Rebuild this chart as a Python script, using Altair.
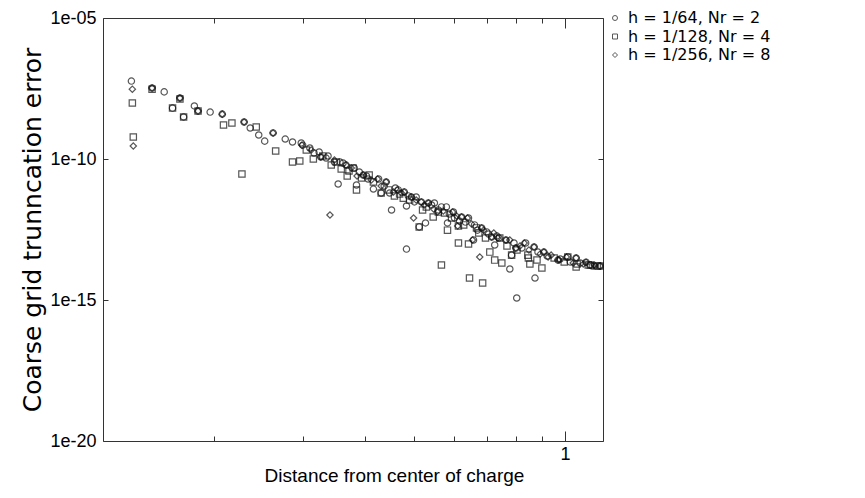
import altair as alt
import pandas as pd

series_names = ["h = 1/64, Nr = 2", "h = 1/128, Nr = 4", "h = 1/256, Nr = 8"]

# h = 1/64, Nr = 2  (circles)
x_64 = [0.1367, 0.1503, 0.1589, 0.1651, 0.1708, 0.1737, 0.1825, 0.1856, 0.1962, 0.2074,
        0.2293, 0.2358, 0.2452, 0.2520, 0.2619, 0.2769, 0.2863, 0.298, 0.300, 0.310,
        0.316, 0.326, 0.337, 0.347, 0.353, 0.356, 0.366, 0.380, 0.384, 0.396,
        0.405, 0.415, 0.425, 0.430, 0.440, 0.447, 0.451, 0.465, 0.478, 0.483,
        0.483, 0.494, 0.505, 0.512, 0.517, 0.527, 0.534, 0.549, 0.567, 0.580,
        0.583, 0.599, 0.602, 0.622, 0.642, 0.657, 0.660, 0.682, 0.698, 0.714,
        0.724, 0.738, 0.7624, 0.7824, 0.776, 0.7977, 0.801, 0.8345, 0.8674, 0.9074,
        0.871, 0.9678, 1.0125, 1.052, 1.101, 1.1225, 1.174,
        0.3235, 0.334, 0.361, 0.389, 0.402, 0.436, 0.459, 0.487, 0.501, 0.542,
        0.559, 0.588, 0.616, 0.633, 0.669, 0.704, 0.731, 0.791, 0.820, 0.883,
        0.921, 0.978, 1.024, 1.072, 1.133]
y_64 = [5.8e-8, 3.3e-8, 2.4e-8, 6.4e-9, 1.46e-8, 3.1e-9, 7.6e-9, 5.0e-9, 4.6e-9, 3.9e-9,
        2.05e-9, 1.26e-9, 7.1e-10, 4.3e-10, 8.4e-10, 5.1e-10, 4.0e-10, 3.7e-10, 3.1e-10, 2.45e-10,
        1.63e-10, 1.18e-10, 1.28e-10, 7.8e-11, 1.3e-11, 7.8e-11, 6.1e-11, 4.8e-11, 1.2e-11, 2.7e-11,
        1.95e-11, 8.6e-12, 1.95e-11, 6.2e-12, 1.53e-11, 6.2e-12, 1.55e-12, 8.0e-12, 6.8e-12, 2.15e-12,
        6.4e-14, 4.5e-12, 4.5e-12, 3.9e-13, 3.0e-12, 5.4e-13, 2.75e-12, 2.75e-12, 2.0e-12, 2.0e-12,
        5.4e-13, 1.32e-12, 8.1e-13, 8.8e-13, 8.1e-13, 1.34e-13, 4.6e-13, 3.6e-13, 2.6e-13, 1.71e-13,
        8.9e-14, 1.58e-13, 1.34e-13, 3.9e-14, 1.26e-14, 7.0e-14, 1.18e-15, 1.05e-13, 7.6e-14, 5.0e-14,
        6.0e-15, 2.6e-14, 3.35e-14, 3.1e-14, 2.2e-14, 1.74e-14, 1.61e-14,
        1.77e-10, 1.08e-10, 7.2e-11, 3.46e-11, 2.5e-11, 1.1e-11, 9.4e-12, 4.9e-12, 3.0e-12, 2.34e-12,
        1.55e-12, 1.12e-12, 6.3e-13, 5.8e-13, 3.0e-13, 2.19e-13, 1.86e-13, 1.05e-13, 7.0e-14, 5.0e-14,
        3.63e-14, 2.84e-14, 2.23e-14, 2.05e-14, 1.61e-14]

# h = 1/128, Nr = 4  (squares)
x_128 = [0.1373, 0.1379, 0.1503, 0.1651, 0.1708, 0.1737, 0.1856, 0.2086, 0.227, 0.2168,
         0.2424, 0.2650, 0.2863, 0.2960, 0.315, 0.350, 0.358, 0.368, 0.378, 0.384,
         0.407, 0.430, 0.457, 0.476, 0.512, 0.520, 0.546, 0.559, 0.567, 0.583,
         0.613, 0.613, 0.642, 0.645, 0.673, 0.685, 0.708, 0.724, 0.748, 0.7824,
         0.8508, 0.845, 0.899, 1.0125, 1.052, 1.1225, 1.174,
         0.305, 0.329, 0.342, 0.371, 0.393, 0.415, 0.445, 0.468, 0.490, 0.529,
         0.575, 0.594, 0.628, 0.666, 0.694, 0.741, 0.766, 0.802, 0.843, 0.879,
         0.951, 0.996, 1.057, 1.112, 1.159]
y_128 = [9.7e-9, 6.0e-10, 3.0e-8, 6.4e-9, 1.34e-8, 3.1e-9, 5.0e-9, 1.61e-9, 2.94e-11, 1.89e-9,
         1.36e-9, 1.92e-10, 7.8e-11, 8.5e-11, 1.0e-10, 7.8e-11, 4.4e-11, 2.5e-11, 4.8e-11, 8.0e-12,
         2.7e-11, 6.2e-12, 4.9e-12, 4.1e-12, 3.9e-13, 1.55e-12, 8.8e-13, 1.32e-12, 1.74e-14, 3.0e-13,
         1.05e-13, 4.2e-13, 9.7e-14, 6.0e-15, 2.4e-13, 4.0e-15, 5.0e-14, 2.6e-14, 2.05e-14, 3.9e-14,
         1.89e-14, 3.1e-14, 1.36e-14, 3.35e-14, 1.48e-14, 1.74e-14, 1.61e-14,
         2.08e-10, 1.28e-10, 6.1e-11, 3.75e-11, 2.12e-11, 1.53e-11, 8.0e-12, 5.7e-12, 3.5e-12, 2.0e-12,
         1.22e-12, 8.1e-13, 4.6e-13, 3.6e-13, 1.58e-13, 1.58e-13, 8.2e-14, 5.9e-14, 3.9e-14, 2.62e-14,
         3.08e-14, 2.23e-14, 1.89e-14, 1.74e-14, 1.61e-14]

# h = 1/256, Nr = 8  (diamonds)
x_256 = [0.1373, 0.1379, 0.1503, 0.1708, 0.1856, 0.2074, 0.2293, 0.2619, 0.299, 0.340,
         0.326, 0.366, 0.396, 0.423, 0.440, 0.463, 0.478, 0.494, 0.499, 0.517,
         0.534, 0.557, 0.597, 0.611, 0.622, 0.639, 0.654, 0.676, 0.682, 0.714,
         0.734, 0.7624, 0.7977, 0.8291, 0.8674, 0.9074, 0.9251, 0.9678, 1.006, 1.052,
         1.101, 1.144, 1.174,
         0.312, 0.347, 0.375, 0.385, 0.411, 0.430, 0.455, 0.472, 0.505, 0.524,
         0.547, 0.572, 0.608, 0.651, 0.688, 0.721, 0.776, 0.813, 0.847, 0.892,
         0.938, 0.973, 1.038, 1.087, 1.149]
y_256 = [3.0e-8, 2.9e-10, 3.3e-8, 1.46e-8, 5.0e-9, 3.9e-9, 2.05e-9, 8.4e-10, 3.1e-10, 1.03e-12,
         1.18e-10, 6.1e-11, 2.7e-11, 1.95e-11, 1.53e-11, 8.0e-12, 6.8e-12, 4.5e-12, 8.1e-13, 3.0e-12,
         2.75e-12, 1.32e-12, 1.32e-12, 4.2e-13, 8.8e-13, 8.1e-13, 1.34e-13, 3.35e-14, 3.6e-13, 1.71e-13,
         1.58e-13, 1.34e-13, 7.0e-14, 1.05e-13, 7.6e-14, 5.0e-14, 3.35e-14, 2.6e-14, 3.35e-14, 3.1e-14,
         2.2e-14, 1.74e-14, 1.61e-14,
         2.08e-10, 9.2e-11, 4.8e-11, 2.5e-11, 1.8e-11, 1.1e-11, 6.8e-12, 6.2e-12, 3.5e-12, 2.34e-12,
         1.69e-12, 1.43e-12, 9.5e-13, 5.0e-13, 3.0e-13, 2.38e-13, 1.34e-13, 8.2e-14, 5.9e-14, 4.3e-14,
         3.9e-14, 2.62e-14, 2.05e-14, 1.89e-14, 1.61e-14]

x_domain = [0.12, 1.19]
y_domain = [1e-20, 1e-5]
x_minor_ticks = [0.2, 0.3, 0.4, 0.5, 0.6, 0.7, 0.8, 0.9]
x_major_ticks = [1.0]
y_major_ticks = [1e-5, 1e-10, 1e-15, 1e-20]
y_tick_labels = ["1e-05", "1e-10", "1e-15", "1e-20"]

rows = []
for name, xs, ys in zip(series_names, [x_64, x_128, x_256], [y_64, y_128, y_256]):
    for a, b in zip(xs, ys):
        rows.append({"series": name, "r": a, "err": b})
df = pd.DataFrame(rows)

FONT = "Liberation Sans"
xs_ = alt.Scale(type="log", domain=x_domain, nice=False)
ys_ = alt.Scale(type="log", domain=y_domain, nice=False)

label_expr = "[" + ",".join("'%s'" % t for t in y_tick_labels) + "][round(-log(datum.value)/LN10/5) - 1]"

tick_axis = dict(labels=False, title=None, domain=False, grid=False, tickColor="#333", tickWidth=1)

points = alt.Chart(df).mark_point(filled=False, size=40, strokeWidth=1.2, color="#111").encode(
    x=alt.X("r:Q", scale=xs_, axis=alt.Axis(orient="bottom", values=x_major_ticks, format="d",
            offset=-10, tickSize=10, domain=False, grid=False, tickColor="#333",
            labelPadding=4, labelFontSize=18,
            title="Distance from center of charge", titleFont=FONT, titleFontSize=19,
            titlePadding=3, titleX=291)),
    y=alt.Y("err:Q", scale=ys_, axis=alt.Axis(orient="left", values=y_major_ticks, labelExpr=label_expr,
            offset=-5, tickSize=5, domain=False, grid=False, tickColor="#333",
            labelPadding=7, labelFontSize=18,
            title="Coarse grid trunncation error", titleFont="DejaVu Sans", titleFontSize=25,
            titlePadding=4)),
    shape=alt.Shape("series:N", scale=alt.Scale(domain=series_names, range=["circle", "square", "diamond"]),
                    legend=alt.Legend(title=None, orient="none", legendX=504, legendY=-8)),
)

ticks_b = alt.Chart(df).mark_point(opacity=0).encode(
    x=alt.X("r:Q", scale=xs_, axis=alt.Axis(orient="bottom", values=x_minor_ticks, offset=-5, tickSize=5, **tick_axis)),
    y=alt.Y("err:Q", scale=ys_, axis=alt.Axis(orient="right", values=y_major_ticks, offset=-5, tickSize=5, **tick_axis)),
)
ticks_c = alt.Chart(df).mark_point(opacity=0).encode(
    x=alt.X("r:Q", scale=xs_, axis=alt.Axis(orient="top", values=x_minor_ticks, offset=-5, tickSize=5, **tick_axis)),
    y=alt.Y("err:Q", scale=ys_, axis=None),
)
ticks_d = alt.Chart(df).mark_point(opacity=0).encode(
    x=alt.X("r:Q", scale=xs_, axis=alt.Axis(orient="top", values=x_major_ticks, offset=-10, tickSize=10, **tick_axis)),
    y=alt.Y("err:Q", scale=ys_, axis=None),
)

chart = alt.layer(points, ticks_b, ticks_c, ticks_d).resolve_axis(
    x="independent", y="independent"
).properties(
    width=500, height=423,
    autosize=alt.AutoSizeParams(type="none"),
    padding={"left": 95, "top": 10, "right": 254, "bottom": 49},
).configure_view(
    stroke="#333", strokeWidth=1
).configure_axis(
    labelFont=FONT, titleFont=FONT, labelFontSize=18, titleFontSize=21,
    titleFontWeight="normal", labelColor="black", titleColor="black",
).configure_legend(
    labelFont="DejaVu Sans", labelFontSize=16, labelColor="black", labelLimit=400,
    symbolSize=25, symbolStrokeColor="#111", symbolFillColor="transparent", symbolStrokeWidth=1,
    rowPadding=2.5, labelOffset=5, padding=0,
)

chart.save("out.html", embed_options={"renderer": "svg", "actions": False})
